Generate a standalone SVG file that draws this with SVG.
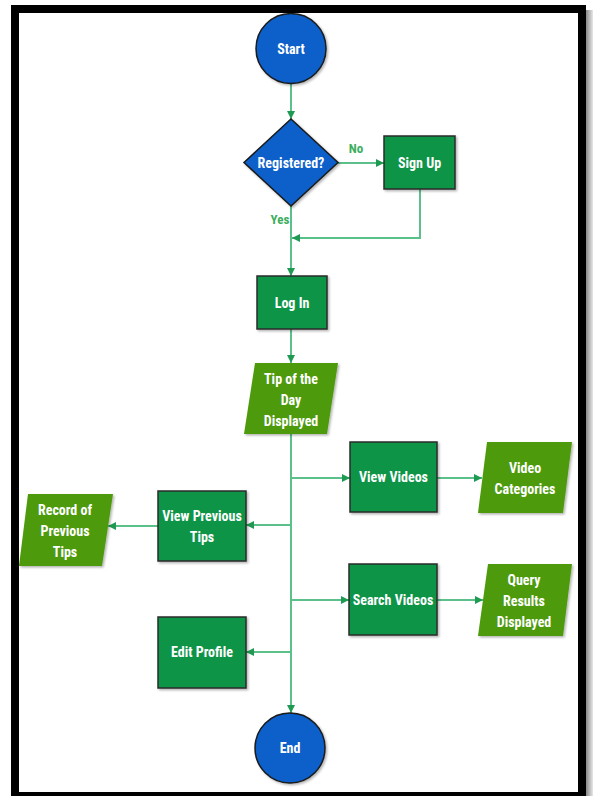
<svg xmlns="http://www.w3.org/2000/svg" width="593" height="796" viewBox="0 0 593 796">
<defs>
<linearGradient id="shade" x1="0" y1="0" x2="1" y2="0">
<stop offset="0" stop-color="#888"/>
<stop offset="1" stop-color="#e8e8e8"/>
</linearGradient>
<marker id="arr" markerUnits="userSpaceOnUse" markerWidth="10" markerHeight="10" viewBox="0 0 10 10" refX="9" refY="5" orient="auto">
<path d="M1,1 L9,5 L1,9 Z" fill="#1f9a52"/>
</marker>
<filter id="sh" x="-10%" y="-10%" width="130%" height="130%">
<feDropShadow dx="1.5" dy="1.5" stdDeviation="1" flood-color="#000" flood-opacity="0.3"/>
</filter>
</defs>
<style>
.proc{fill:#0b9447;stroke:#2b2b2b;stroke-width:1.5;filter:url(#sh)}
.io{fill:#4e9a0a;stroke:none;filter:url(#sh)}
.term{fill:#0a5fc9;stroke:#1a1a1a;stroke-width:1.5;filter:url(#sh)}
.t{font-family:"Liberation Sans Narrow","Roboto Condensed","DejaVu Sans Condensed","Liberation Sans",sans-serif;font-weight:bold;font-size:14px;fill:#ffffff;text-anchor:middle}
.lbl{font-family:"Liberation Sans Narrow","Roboto Condensed","DejaVu Sans Condensed","Liberation Sans",sans-serif;font-weight:bold;font-size:13px;fill:#3dae5e;text-anchor:middle}
.c{fill:none;stroke:#5cc08a;stroke-width:2}
</style>
<rect x="0" y="0" width="593" height="796" fill="#ffffff"/>
<rect x="586" y="10" width="7" height="786" fill="url(#shade)"/>
<rect x="15" y="9" width="567" height="787" fill="#ffffff" stroke="#000000" stroke-width="8"/>

<g id="connectors">
<path class="c" d="M291 83 V119" marker-end="url(#arr)"/>
<path class="c" d="M338 163 H384" marker-end="url(#arr)"/>
<path class="c" d="M420 189 V238 H292" marker-end="url(#arr)"/>
<path class="c" d="M291 206 V276" marker-end="url(#arr)"/>
<path class="c" d="M291 329 V363" marker-end="url(#arr)"/>
<path class="c" d="M291 434 V713" marker-end="url(#arr)"/>
<path class="c" d="M291 478 H350" marker-end="url(#arr)"/>
<path class="c" d="M437 478 H482" marker-end="url(#arr)"/>
<path class="c" d="M291 525 H246" marker-end="url(#arr)"/>
<path class="c" d="M158 526 H108" marker-end="url(#arr)"/>
<path class="c" d="M291 600 H349" marker-end="url(#arr)"/>
<path class="c" d="M437 600 H483" marker-end="url(#arr)"/>
<path class="c" d="M291 652 H246" marker-end="url(#arr)"/>
<text class="lbl" x="356" y="153">No</text>
<text class="lbl" x="280" y="224">Yes</text>
</g>

<g id="start">
<circle class="term" cx="291" cy="48.5" r="35"/>
<text class="t" x="291" y="53.5">Start</text>
</g>
<g id="registered">
<polygon class="term" points="291,119 338,162.5 291,206 244,162.5"/>
<text class="t" x="291" y="167.5">Registered?</text>
</g>
<g id="signup">
<rect class="proc" x="384" y="136" width="71" height="53"/>
<text class="t" x="419.5" y="167.5">Sign Up</text>
</g>
<g id="login">
<rect class="proc" x="257" y="276" width="70" height="53"/>
<text class="t" x="292" y="307.5">Log In</text>
</g>
<g id="tip">
<polygon class="io" points="255,363 338,363 327,434 244,434"/>
<text class="t" x="291" y="384">Tip of the</text>
<text class="t" x="291" y="405">Day</text>
<text class="t" x="291" y="426">Displayed</text>
</g>
<g id="viewvideos">
<rect class="proc" x="350" y="442" width="87" height="70"/>
<text class="t" x="393.5" y="482">View Videos</text>
</g>
<g id="videocategories">
<polygon class="io" points="487,442 572,442 563,513 478,513"/>
<text class="t" x="525" y="473">Video</text>
<text class="t" x="525" y="494">Categories</text>
</g>
<g id="viewprevious">
<rect class="proc" x="158" y="491" width="88" height="70"/>
<text class="t" x="202" y="521">View Previous</text>
<text class="t" x="202" y="542">Tips</text>
</g>
<g id="recordprevious">
<polygon class="io" points="28,494 113,494 102,566 19,566"/>
<text class="t" x="65" y="515">Record of</text>
<text class="t" x="65" y="536">Previous</text>
<text class="t" x="65" y="557">Tips</text>
</g>
<g id="searchvideos">
<rect class="proc" x="349" y="564" width="88" height="71"/>
<text class="t" x="393" y="604.5">Search Videos</text>
</g>
<g id="queryresults">
<polygon class="io" points="488,564 572,564 563,636 478,636"/>
<text class="t" x="524" y="585">Query</text>
<text class="t" x="524" y="606">Results</text>
<text class="t" x="524" y="627">Displayed</text>
</g>
<g id="editprofile">
<rect class="proc" x="158" y="617" width="88" height="71"/>
<text class="t" x="202" y="657">Edit Profile</text>
</g>
<g id="end">
<circle class="term" cx="290" cy="748" r="35"/>
<text class="t" x="290" y="753">End</text>
</g>
</svg>
